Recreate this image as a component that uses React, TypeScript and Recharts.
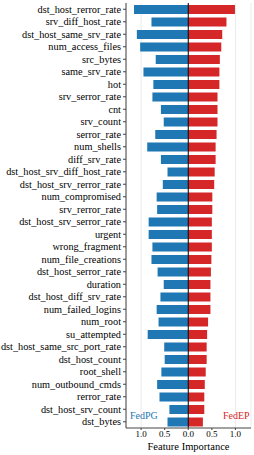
import React from 'react';
import { BarChart, Bar, XAxis, YAxis, CartesianGrid, ReferenceLine } from 'recharts';

const features = [
  'dst_host_rerror_rate', 'srv_diff_host_rate', 'dst_host_same_srv_rate', 'num_access_files',
  'src_bytes', 'same_srv_rate', 'hot', 'srv_serror_rate', 'cnt', 'srv_count', 'serror_rate',
  'num_shells', 'diff_srv_rate', 'dst_host_srv_diff_host_rate', 'dst_host_srv_rerror_rate',
  'num_compromised', 'srv_rerror_rate', 'dst_host_srv_serror_rate', 'urgent', 'wrong_fragment',
  'num_file_creations', 'dst_host_serror_rate', 'duration', 'dst_host_diff_srv_rate',
  'num_failed_logins', 'num_root', 'su_attempted', 'dst_host_same_src_port_rate',
  'dst_host_count', 'root_shell', 'num_outbound_cmds', 'rerror_rate', 'dst_host_srv_count', 'dst_bytes',
];

const fedPG = [
  1.15, 0.78, 1.09, 1.02, 0.69, 0.95, 0.74, 0.76, 0.58, 0.52, 0.70, 0.87, 0.58, 0.44, 0.54,
  0.67, 0.66, 0.84, 0.84, 0.76, 0.78, 0.65, 0.52, 0.59, 0.67, 0.63, 0.86, 0.51, 0.50, 0.57,
  0.66, 0.61, 0.40, 0.44,
];

const fedEP = [
  0.99, 0.81, 0.72, 0.70, 0.67, 0.66, 0.66, 0.62, 0.62, 0.62, 0.60, 0.58, 0.58, 0.56, 0.55,
  0.51, 0.51, 0.50, 0.50, 0.50, 0.49, 0.48, 0.47, 0.47, 0.47, 0.42, 0.40, 0.39, 0.39, 0.37,
  0.35, 0.34, 0.34, 0.31,
];

const xTicks = [-1, -0.5, 0, 0.5, 1];

const data = features.map((name, i) => ({ name, pg: -fedPG[i], ep: fedEP[i] }));

const FONT = '"Liberation Serif", "DejaVu Serif", serif';
const BLUE = '#1f77b4';
const RED = '#d62728';
const AXIS = '#444';

export default function App() {
  return (
    <div style={{ position: 'absolute', left: 0, top: 0, width: 254, height: 455 }}>
      <BarChart
        width={254}
        height={455}
        data={data}
        layout="vertical"
        stackOffset="sign"
        margin={{ top: 3, right: 3, bottom: 0, left: 0 }}
        barCategoryGap={0}
      >
        <CartesianGrid horizontal={false} stroke="#ebebeb" />
        <XAxis
          type="number"
          domain={[-1.32, 1.33]}
          ticks={xTicks}
          tickFormatter={(v: number) => Math.abs(v).toFixed(1)}
          tick={{ fontFamily: FONT, fontSize: 9, fill: '#000' }}
          tickLine={{ stroke: AXIS }}
          tickSize={2}
          tickMargin={1}
          axisLine={{ stroke: AXIS }}
          height={27}
        />
        <XAxis xAxisId="top" orientation="top" type="number" domain={[-1.32, 1.33]} height={0} tick={false} tickLine={false} axisLine={{ stroke: AXIS }} />
        <YAxis
          type="category"
          dataKey="name"
          width={126}
          interval={0}
          tick={{ fontFamily: FONT, fontSize: 10.3, fill: '#000' }}
          tickLine={{ stroke: AXIS }}
          tickSize={3}
          axisLine={{ stroke: AXIS }}
        />
        <YAxis yAxisId="right" orientation="right" type="category" dataKey="name" width={0} tick={false} tickLine={false} axisLine={{ stroke: AXIS }} />
        <Bar dataKey="pg" stackId="s" fill={BLUE} barSize={9} isAnimationActive={false} />
        <Bar dataKey="ep" stackId="s" fill={RED} barSize={9} isAnimationActive={false} />
        <ReferenceLine x={0} stroke="#000" strokeWidth={1} />
      </BarChart>
      <div style={{ position: 'absolute', left: 126, width: 125, top: 441, lineHeight: '12px', textAlign: 'center', fontFamily: FONT, fontSize: 10.5, color: '#000' }}>Feature Importance</div>
      <div style={{ position: 'absolute', left: 130, top: 410, fontFamily: FONT, fontSize: 10, color: BLUE }}>FedPG</div>
      <div style={{ position: 'absolute', left: 223, top: 410, fontFamily: FONT, fontSize: 10, color: RED }}>FedEP</div>
    </div>
  );
}
